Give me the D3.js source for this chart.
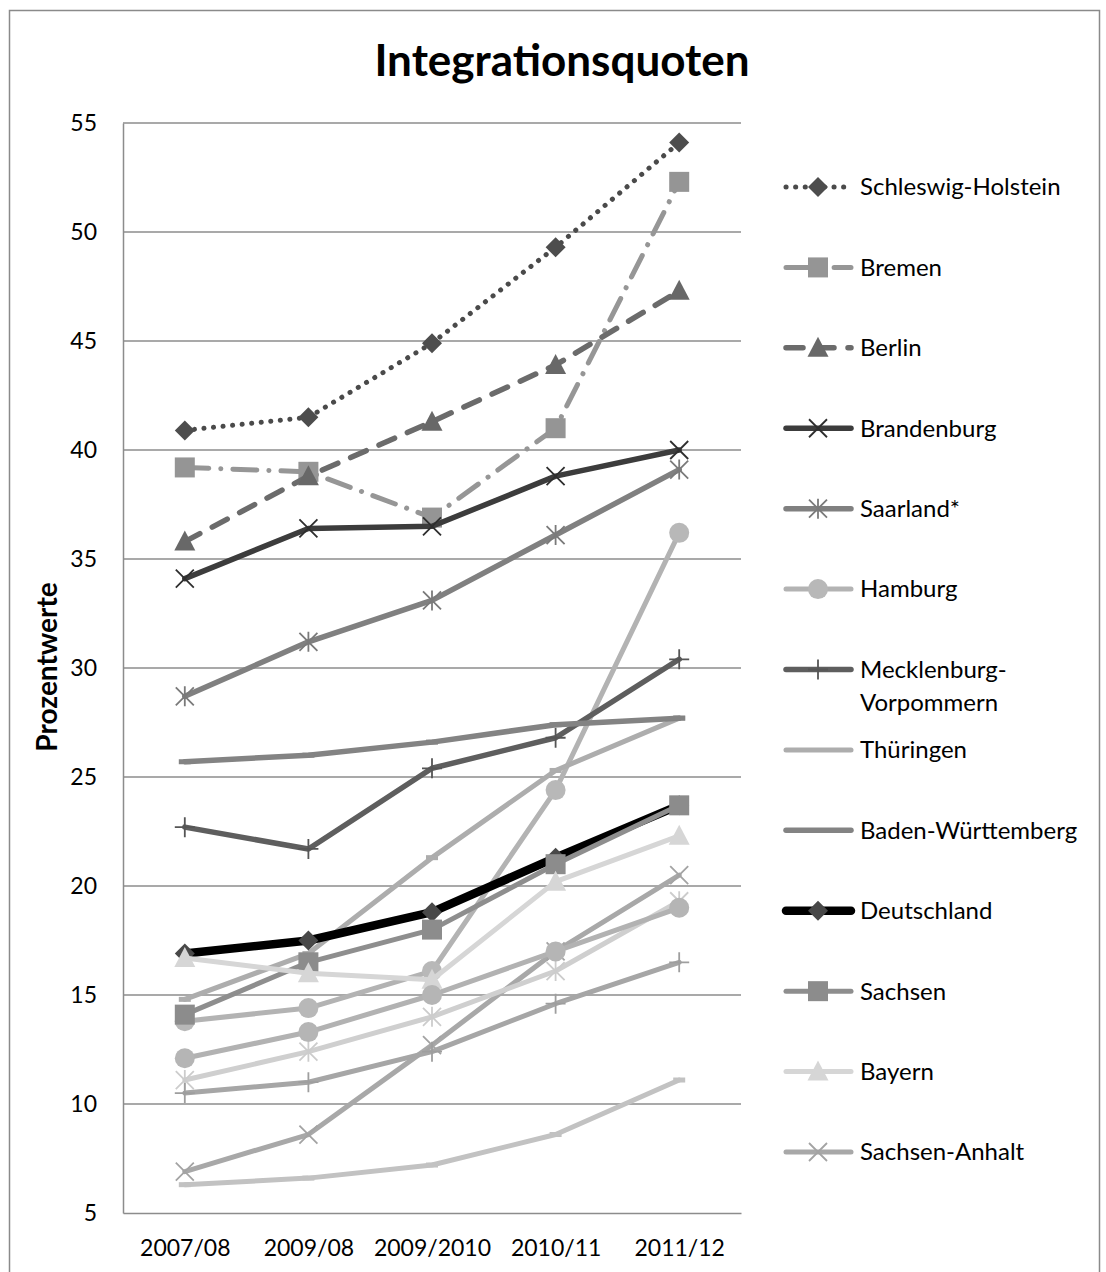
<!DOCTYPE html>
<html>
<head>
<meta charset="utf-8">
<script src="https://cdn.jsdelivr.net/npm/d3@7"></script>
<style>
  body { margin: 0; background: #fff; }
  text { font-family: Lato, "Open Sans", sans-serif; fill: #000; }
</style>
</head>
<body>
<svg id="chart" width="1106" height="1272"></svg>
<script>
// Schuljahre (x-Achse)
const years = ["2007/08", "2009/08", "2009/2010", "2010/11", "2011/12"];
const yTicks = [5, 10, 15, 20, 25, 30, 35, 40, 45, 50, 55];

// Integrationsquoten in Prozent
const schleswigHolstein = [40.9, 41.5, 44.9, 49.3, 54.1];
const bremen            = [39.2, 39.0, 36.9, 41.0, 52.3];
const berlin            = [35.8, 38.8, 41.3, 43.9, 47.3];
const brandenburg       = [34.1, 36.4, 36.5, 38.8, 40.0];
const saarland          = [28.7, 31.2, 33.1, 36.1, 39.1];
const hamburg           = [13.8, 14.4, 16.1, 24.4, 36.2];
const mecklenburgVp     = [22.7, 21.7, 25.4, 26.8, 30.4];
const thueringen        = [14.8, 16.9, 21.3, 25.3, 27.7];
const badenWuerttemberg = [25.7, 26.0, 26.6, 27.4, 27.7];
const deutschland       = [16.9, 17.5, 18.8, 21.3, 23.7];
const sachsen           = [14.1, 16.5, 18.0, 21.0, 23.7];
const bayern            = [16.7, 16.0, 15.7, 20.2, 22.3];
const sachsenAnhalt     = [6.9, 8.6, 12.7, 17.0, 20.5];
// Reihen ohne sichtbaren Legendeneintrag
const hessen            = [11.1, 12.4, 14.0, 16.1, 19.3];
const nordrheinWestf    = [12.1, 13.3, 15.0, 17.0, 19.0];
const rheinlandPfalz    = [10.5, 11.0, 12.4, 14.6, 16.5];
const niedersachsen     = [6.3, 6.6, 7.2, 8.6, 11.1];

const seriesNames = ["Schleswig-Holstein", "Bremen", "Berlin", "Brandenburg", "Saarland*",
  "Hamburg", "Mecklenburg-Vorpommern", "Thüringen", "Baden-Württemberg", "Deutschland",
  "Sachsen", "Bayern", "Sachsen-Anhalt", "Hessen", "Nordrhein-Westfalen", "Rheinland-Pfalz", "Niedersachsen"];
const seriesValues = [schleswigHolstein, bremen, berlin, brandenburg, saarland, hamburg,
  mecklenburgVp, thueringen, badenWuerttemberg, deutschland, sachsen, bayern, sachsenAnhalt,
  hessen, nordrheinWestf, rheinlandPfalz, niedersachsen];
const legendCount = 13;

// Darstellung je Reihe
const styles = [
  { color: "#4a4a4a", width: 5, dash: "0.1 9.5", marker: "diamond", mcolor: "#4d4d4d" },
  { color: "#969696", width: 5, dash: "24 12 0.1 12", marker: "square", mcolor: "#959595" },
  { color: "#6b6b6b", width: 5.5, dash: "17 14", marker: "triangle", mcolor: "#686868" },
  { color: "#3c3c3c", width: 5.5, dash: null, marker: "x", mcolor: "#2e2e2e" },
  { color: "#808080", width: 5.5, dash: null, marker: "asterisk", mcolor: "#7a7a7a" },
  { color: "#b3b3b3", width: 5, dash: null, marker: "circle", mcolor: "#b8b8b8" },
  { color: "#5e5e5e", width: 5.5, dash: null, marker: "plus", mcolor: "#555" },
  { color: "#adadad", width: 5, dash: null, marker: "dash", mcolor: "#adadad" },
  { color: "#838383", width: 5.5, dash: null, marker: "dash", mcolor: "#838383" },
  { color: "#000000", width: 8.5, dash: null, marker: "diamond", mcolor: "#484848" },
  { color: "#8e8e8e", width: 5, dash: null, marker: "square", mcolor: "#8c8c8c" },
  { color: "#d6d6d6", width: 5, dash: null, marker: "triangle", mcolor: "#d6d6d6" },
  { color: "#a8a8a8", width: 5, dash: null, marker: "x", mcolor: "#a3a3a3" },
  { color: "#cfcfcf", width: 5, dash: null, marker: "asterisk", mcolor: "#cccccc" },
  { color: "#b2b2b2", width: 5, dash: null, marker: "circle", mcolor: "#b5b5b5" },
  { color: "#a6a6a6", width: 5, dash: null, marker: "plus", mcolor: "#9e9e9e" },
  { color: "#c2c2c2", width: 5, dash: null, marker: "dash", mcolor: "#c2c2c2" }
];

const svg = d3.select("svg#chart");

// äußerer Rahmen
svg.append("rect")
   .attr("x", 9.5).attr("y", 10.5)
   .attr("width", 1090).attr("height", 1280)
   .attr("fill", "none")
   .attr("stroke", "#8a8a8a")
   .attr("stroke-width", 1.5);

svg.append("text")
   .attr("x", 562).attr("y", 76)
   .attr("text-anchor", "middle")
   .attr("font-size", 44)
   .attr("font-weight", "bold")
   .text("Integrationsquoten");

const x = d3.scalePoint().domain(years).range([123, 741]).padding(0.5);
const y = d3.scaleLinear().domain([5, 55]).range([1213, 123]);

// Gitternetz
svg.append("g")
   .selectAll("line")
   .data(yTicks.filter(t => t > 5))
   .enter().append("line")
           .attr("x1", 123).attr("x2", 741)
           .attr("y1", d => y(d)).attr("y2", d => y(d))
           .attr("stroke", "#8c8c8c")
           .attr("stroke-width", 1.5);

const yAxis = svg.append("g")
   .attr("transform", "translate(123,0)")
   .call(d3.axisLeft(y).tickValues(yTicks).tickSize(0).tickPadding(26));
yAxis.select(".domain").attr("stroke", "#8c8c8c").attr("stroke-width", 1.5);
yAxis.selectAll("text").attr("font-size", 23).attr("font-family", "Lato");

const xAxis = svg.append("g")
   .attr("transform", "translate(0,1213)")
   .call(d3.axisBottom(x).tickSize(0).tickPadding(27));
xAxis.select(".domain").attr("stroke", "#8c8c8c").attr("stroke-width", 1.5);
xAxis.selectAll("text").attr("font-size", 23).attr("font-family", "Lato");

svg.append("text")
   .attr("transform", "translate(57,667) rotate(-90)")
   .attr("text-anchor", "middle")
   .attr("font-size", 28)
   .attr("font-weight", "bold")
   .text("Prozentwerte");

// Markierungen
function drawMarker(g, type, cx, cy, color) {
  if (type === "diamond") {
    g.append("path").attr("d", `M${cx},${cy - 10}L${cx + 10},${cy}L${cx},${cy + 10}L${cx - 10},${cy}Z`)
     .attr("fill", color);
  } else if (type === "square") {
    g.append("rect").attr("x", cx - 10).attr("y", cy - 10).attr("width", 20).attr("height", 20)
     .attr("fill", color);
  } else if (type === "triangle") {
    g.append("path").attr("d", `M${cx},${cy - 11}L${cx + 10.5},${cy + 9}L${cx - 10.5},${cy + 9}Z`)
     .attr("fill", color);
  } else if (type === "circle") {
    g.append("circle").attr("cx", cx).attr("cy", cy).attr("r", 10).attr("fill", color);
  } else if (type === "x") {
    g.append("path").attr("d", `M${cx - 9},${cy - 9}L${cx + 9},${cy + 9}M${cx + 9},${cy - 9}L${cx - 9},${cy + 9}`)
     .attr("stroke", color).attr("stroke-width", 1.8).attr("fill", "none");
  } else if (type === "asterisk") {
    g.append("path").attr("d", `M${cx - 9},${cy - 9}L${cx + 9},${cy + 9}M${cx + 9},${cy - 9}L${cx - 9},${cy + 9}M${cx},${cy - 10}L${cx},${cy + 10}`)
     .attr("stroke", color).attr("stroke-width", 1.8).attr("fill", "none");
  } else if (type === "plus") {
    g.append("path").attr("d", `M${cx - 10},${cy}L${cx + 10},${cy}M${cx},${cy - 10}L${cx},${cy + 10}`)
     .attr("stroke", color).attr("stroke-width", 1.8).attr("fill", "none");
  } else if (type === "dash") {
    g.append("rect").attr("x", cx - 6).attr("y", cy - 2.5).attr("width", 12).attr("height", 5)
     .attr("fill", color);
  }
}

const line = d3.line().x((d, i) => x(years[i])).y(d => y(d));

const gSeries = svg.append("g");
seriesValues.forEach((vals, si) => {
  const st = styles[si];
  const g = gSeries.append("g").attr("class", "series");
  g.append("path")
   .attr("d", line(vals))
   .attr("fill", "none")
   .attr("stroke", st.color)
   .attr("stroke-width", st.width)
   .attr("stroke-linecap", "round")
   .attr("stroke-linejoin", "round")
   .attr("stroke-dasharray", st.dash);
  vals.forEach((v, i) => drawMarker(g, st.marker, x(years[i]), y(v), st.mcolor));
});

// Legende
const legendY = d3.scaleLinear().domain([0, legendCount - 1]).range([187, 1152]);
const gLegend = svg.append("g");
seriesNames.slice(0, legendCount).forEach((name, i) => {
  const st = styles[i];
  const ly = legendY(i);
  const g = gLegend.append("g");
  g.append("line")
   .attr("x1", 786).attr("x2", 851).attr("y1", ly).attr("y2", ly)
   .attr("stroke", st.color)
   .attr("stroke-width", st.width)
   .attr("stroke-linecap", "round")
   .attr("stroke-dasharray", st.dash);
  if (st.marker !== "dash") drawMarker(g, st.marker, 818, ly, st.mcolor);
  const parts = name === "Mecklenburg-Vorpommern" ? ["Mecklenburg-", "Vorpommern"] : [name];
  parts.forEach((p, k) => {
    g.append("text")
     .attr("x", 860).attr("y", ly + k * 33)
     .attr("dy", "0.35em")
     .attr("font-size", 24)
     .text(p);
  });
});
</script>
</body>
</html>
